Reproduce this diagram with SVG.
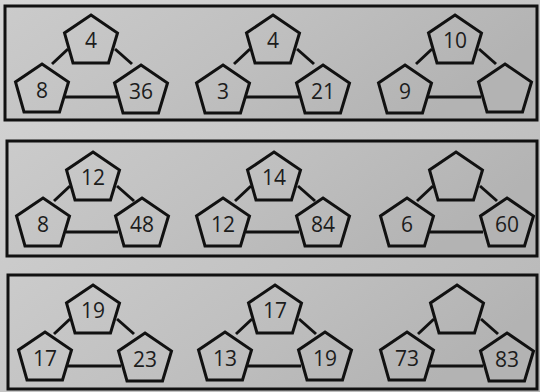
<svg xmlns="http://www.w3.org/2000/svg" width="540" height="392" viewBox="0 0 540 392">
<defs>
<linearGradient id="bg" x1="0" y1="0" x2="1" y2="1">
<stop offset="0" stop-color="#d6d6d6"/>
<stop offset="0.5" stop-color="#c6c6c6"/>
<stop offset="1" stop-color="#b6b6b6"/>
</linearGradient>
<linearGradient id="pf" x1="0" y1="0" x2="1" y2="0.3">
<stop offset="0" stop-color="#cbcbcb"/>
<stop offset="0.5" stop-color="#c0c0c0"/>
<stop offset="1" stop-color="#b3b3b3"/>
</linearGradient>
<polygon id="pent" points="0,-26 26.5,-8 17.5,22 -18,22 -26.5,-8"/>
</defs>
<style>
.panel{fill:url(#pf);stroke:#111;stroke-width:3}
.p{fill:none;stroke:#111;stroke-width:3;stroke-linejoin:miter}
.c line{stroke:#111;stroke-width:3}
.t{font-family:"Open Sans","Noto Sans",sans-serif;font-size:21px;fill:#1c1c1c;text-anchor:middle}
</style>
<rect width="540" height="392" fill="url(#bg)"/>
<g id="panels">
<rect class="panel" x="5" y="6" width="532" height="114"/>
<rect class="panel" x="7" y="141" width="530" height="115"/>
<rect class="panel" x="8" y="275" width="529" height="114"/>
</g>
<g id="connectors" class="c">
<!-- panel 1 -->
<line x1="52" y1="64" x2="68" y2="49"/><line x1="115" y1="49" x2="132" y2="64"/><line x1="65" y1="97" x2="117" y2="97"/>
<line x1="234" y1="64" x2="250" y2="49"/><line x1="297" y1="49" x2="314" y2="64"/><line x1="246" y1="97" x2="299" y2="97"/>
<line x1="416" y1="64" x2="432" y2="49"/><line x1="479" y1="49" x2="496" y2="64"/><line x1="428" y1="97" x2="481" y2="97"/>
<!-- panel 2 -->
<line x1="54" y1="201" x2="70" y2="186"/><line x1="117" y1="186" x2="134" y2="201"/><line x1="66" y1="232" x2="118" y2="232"/>
<line x1="235" y1="201" x2="251" y2="186"/><line x1="298" y1="186" x2="315" y2="201"/><line x1="246" y1="232" x2="299" y2="232"/>
<line x1="417" y1="201" x2="433" y2="186"/><line x1="480" y1="186" x2="497" y2="201"/><line x1="430" y1="232" x2="483" y2="232"/>
<!-- panel 3 -->
<line x1="54" y1="334" x2="70" y2="319"/><line x1="117" y1="319" x2="134" y2="334"/><line x1="68" y1="366" x2="121" y2="366"/>
<line x1="236" y1="334" x2="252" y2="319"/><line x1="299" y1="319" x2="316" y2="334"/><line x1="248" y1="366" x2="301" y2="366"/>
<line x1="418" y1="334" x2="434" y2="319"/><line x1="481" y1="319" x2="498" y2="334"/><line x1="430" y1="366" x2="483" y2="366"/>
</g>
<!-- panel 1 -->
<g id="n1a"><use href="#pent" class="p" x="91" y="41"/><text class="t" x="91" y="48">4</text></g>
<g id="n1b"><use href="#pent" class="p" x="42" y="90"/><text class="t" x="42" y="98">8</text></g>
<g id="n1c"><use href="#pent" class="p" x="141" y="91"/><text class="t" x="141" y="99">36</text></g>
<g id="n2a"><use href="#pent" class="p" x="273" y="41"/><text class="t" x="273" y="48">4</text></g>
<g id="n2b"><use href="#pent" class="p" x="223" y="91"/><text class="t" x="223" y="99">3</text></g>
<g id="n2c"><use href="#pent" class="p" x="323" y="91"/><text class="t" x="323" y="99">21</text></g>
<g id="n3a"><use href="#pent" class="p" x="455" y="41"/><text class="t" x="455" y="48">10</text></g>
<g id="n3b"><use href="#pent" class="p" x="405" y="91"/><text class="t" x="405" y="99">9</text></g>
<g id="n3c"><use href="#pent" class="p" x="505" y="90"/></g>
<!-- panel 2 -->
<g id="n4a"><use href="#pent" class="p" x="93" y="178"/><text class="t" x="93" y="185">12</text></g>
<g id="n4b"><use href="#pent" class="p" x="43" y="224"/><text class="t" x="43" y="232">8</text></g>
<g id="n4c"><use href="#pent" class="p" x="142" y="224"/><text class="t" x="142" y="232">48</text></g>
<g id="n5a"><use href="#pent" class="p" x="274" y="178"/><text class="t" x="274" y="185">14</text></g>
<g id="n5b"><use href="#pent" class="p" x="223" y="224"/><text class="t" x="223" y="232">12</text></g>
<g id="n5c"><use href="#pent" class="p" x="323" y="224"/><text class="t" x="323" y="232">84</text></g>
<g id="n6a"><use href="#pent" class="p" x="456" y="178"/></g>
<g id="n6b"><use href="#pent" class="p" x="407" y="224"/><text class="t" x="407" y="232">6</text></g>
<g id="n6c"><use href="#pent" class="p" x="507" y="224"/><text class="t" x="507" y="232">60</text></g>
<!-- panel 3 -->
<g id="n7a"><use href="#pent" class="p" x="93" y="311"/><text class="t" x="93" y="318">19</text></g>
<g id="n7b"><use href="#pent" class="p" x="45" y="358"/><text class="t" x="45" y="366">17</text></g>
<g id="n7c"><use href="#pent" class="p" x="145" y="359"/><text class="t" x="145" y="367">23</text></g>
<g id="n8a"><use href="#pent" class="p" x="275" y="311"/><text class="t" x="275" y="318">17</text></g>
<g id="n8b"><use href="#pent" class="p" x="225" y="358"/><text class="t" x="225" y="366">13</text></g>
<g id="n8c"><use href="#pent" class="p" x="325" y="358"/><text class="t" x="325" y="366">19</text></g>
<g id="n9a"><use href="#pent" class="p" x="457" y="311"/></g>
<g id="n9b"><use href="#pent" class="p" x="407" y="358"/><text class="t" x="407" y="366">73</text></g>
<g id="n9c"><use href="#pent" class="p" x="507" y="359"/><text class="t" x="507" y="367">83</text></g>
</svg>
